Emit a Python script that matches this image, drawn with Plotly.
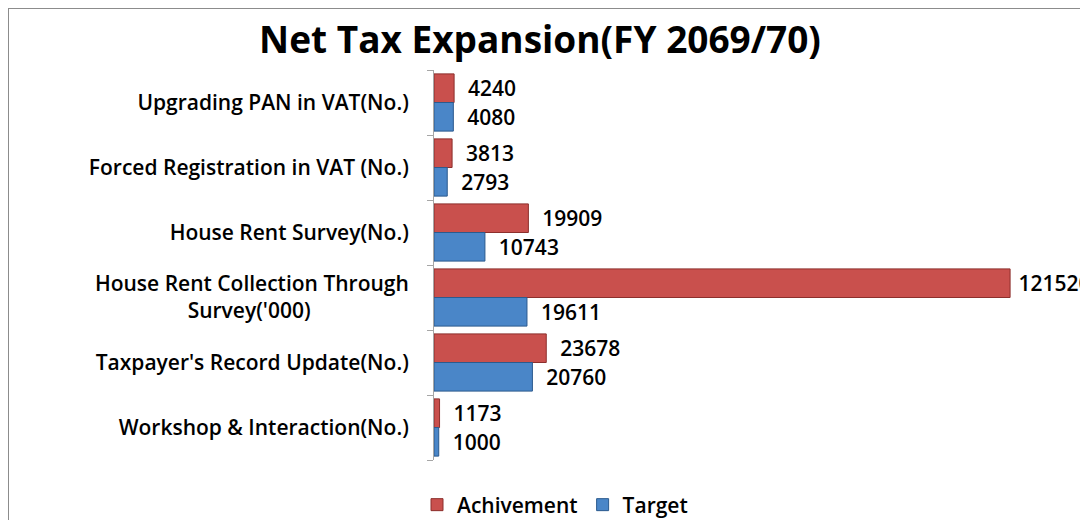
import plotly.graph_objects as go

categories = [
    "Upgrading PAN in VAT(No.)",
    "Forced Registration in VAT (No.)",
    "House Rent Survey(No.)",
    "House Rent Collection Through Survey('000)",
    "Taxpayer's Record Update(No.)",
    "Workshop & Interaction(No.)",
]
tick_labels = [
    "Upgrading PAN in VAT(No.)",
    "Forced Registration in VAT (No.)",
    "House Rent Survey(No.)",
    "House Rent Collection Through<br>Survey('000)" + "\u00a0" * 18,
    "Taxpayer's Record Update(No.)",
    "Workshop & Interaction(No.)",
]
achievement = [4240, 3813, 19909, 121520, 23678, 1173]
target = [4080, 2793, 10743, 19611, 20760, 1000]

FONT = "Open Sans"
OFF = 8  # page body margin
PAGE_W, PAGE_H = 1088, 548
FW, FH = PAGE_W - OFF, PAGE_H - OFF
# plot area in page pixels
L, R_EDGE, T, B_EDGE = 434, 1074, 70, 460
W = R_EDGE - L
H = B_EDGE - T


def px_x(p):
    return (p - L) / W


def px_y(p):
    return (B_EDGE - p) / H


def label_templates(vals):
    # the longest bar's label sits tighter to the bar end (as in the reference)
    m = max(vals)
    return [" %{text}" if v == m else "  %{text}" for v in vals]


fig = go.Figure()
fig.add_trace(go.Bar(
    name="Achivement", y=categories, x=achievement, orientation="h",
    marker=dict(color="#C9504D", line=dict(color="#8C2F2C", width=1)),
    text=achievement, texttemplate=label_templates(achievement), textposition="outside",
    textfont=dict(family=FONT, size=21, color="#000000", weight=600), cliponaxis=False,
))
fig.add_trace(go.Bar(
    name="Target", y=categories, x=target, orientation="h",
    marker=dict(color="#4A86C8", line=dict(color="#2B5A8E", width=1)),
    text=target, texttemplate="  %{text}", textposition="outside",
    textfont=dict(family=FONT, size=21, color="#000000", weight=600), cliponaxis=False,
))

fig.update_layout(
    width=FW, height=FH,
    margin=dict(l=L - OFF, r=PAGE_W - R_EDGE, t=T - OFF, b=PAGE_H - B_EDGE),
    paper_bgcolor="white", plot_bgcolor="white",
    barmode="group", bargap=0.12, bargroupgap=0.0,
    title=dict(text="Net Tax Expansion(FY 2069/70)",
               x=(540 - OFF) / FW, xref="container", xanchor="center",
               y=1 - (40 - OFF) / FH, yref="container", yanchor="middle",
               font=dict(family=FONT, size=37, color="#000000", weight="bold")),
    font=dict(family=FONT, color="#000000"),
    xaxis=dict(range=[0, 135000], visible=False, showgrid=False, zeroline=False),
    yaxis=dict(autorange="reversed", showline=True, linecolor="#A6A6A6", linewidth=1,
               ticks="outside", ticklen=6, tickcolor="#A6A6A6", tickson="boundaries",
               tickvals=categories, ticktext=tick_labels,
               tickfont=dict(family=FONT, size=21, color="#000000", weight=600),
               ticklabelstandoff=20, showgrid=False),
    legend=dict(orientation="h", x=px_x(555), xanchor="center", y=px_y(505), yanchor="middle",
                font=dict(family=FONT, size=21, color="#000000", weight=600),
                traceorder="normal", itemwidth=30),
    showlegend=True,
)

fig.add_shape(type="rect", xref="paper", yref="paper",
              x0=px_x(OFF), x1=px_x(1110), y0=px_y(560), y1=px_y(OFF),
              line=dict(color="#8C8C8C", width=2), layer="below")

fig.write_html("out.html", post_script="document.body.style.overflow='hidden';")
